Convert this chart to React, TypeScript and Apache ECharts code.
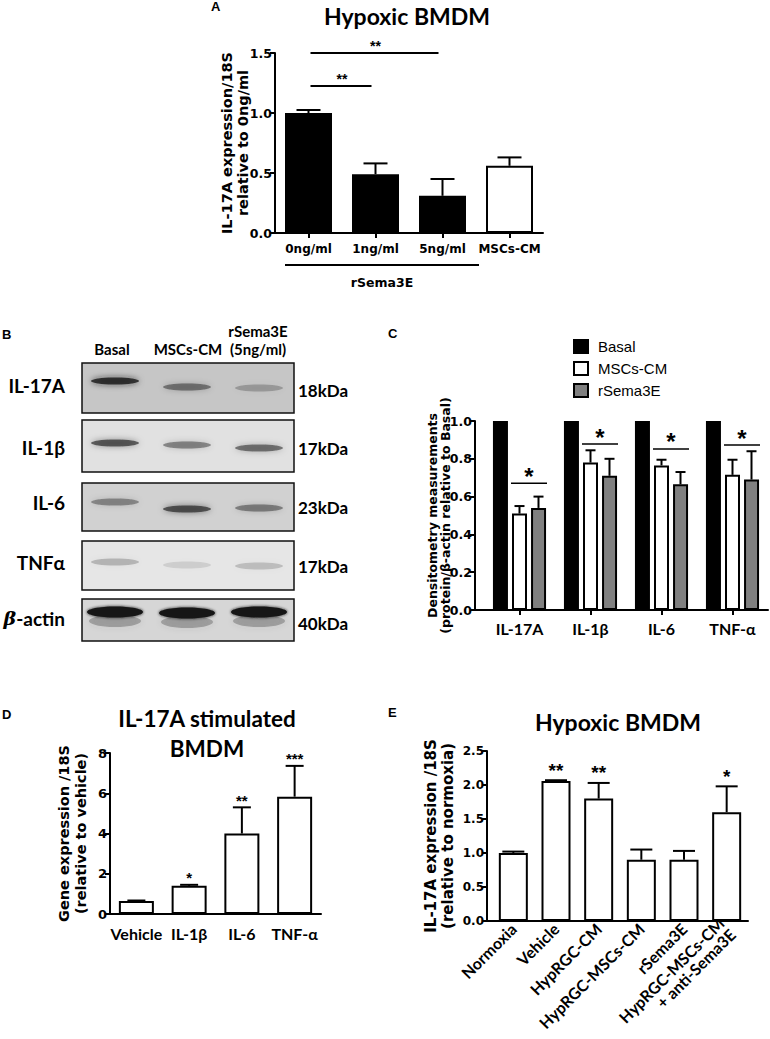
import React, { useEffect, useRef } from "react";
import * as echarts from "echarts";

const ARIAL = '"DejaVu Sans", "Liberation Sans", Arial, sans-serif';
const ARIAL_REG = '"Liberation Sans", Arial, sans-serif';
const CALIBRI = 'Lato, "Open Sans", sans-serif';

// ---------- Panel A ----------
const aCategories = ["0ng/ml", "1ng/ml", "5ng/ml", "MSCs-CM"];
const aValues = [1.0, 0.49, 0.31, 0.56];
const aErrorTops = [1.025, 0.58, 0.45, 0.63];
const aFill = ["#000", "#000", "#000", "#fff"];
const aSigFrom = [0, 0];
const aSigTo = [2, 1];
const aSigY = [1.5, 1.225];
const aSigText = ["**", "**"];
const aGroupLabel = "rSema3E";

// ---------- Panel B (western blot) ----------
const blotLanes = ["Basal", "MSCs-CM", "rSema3E\n(5ng/ml)"];
const blotProteins = ["IL-17A", "IL-1β", "IL-6", "TNFα", "β-actin"];
const blotSizes = ["18kDa", "17kDa", "23kDa", "17kDa", "40kDa"];
const blotBackgrounds = ["#c6c6c6", "#e1e1e1", "#d1d1d1", "#e6e6e6", "#d6d6d6"];
const blotIntensity = [
  [0.8, 0.45, 0.22],
  [0.6, 0.42, 0.5],
  [0.38, 0.65, 0.42],
  [0.2, 0.1, 0.17],
  [1, 1, 1],
];

// ---------- Panel C ----------
const cCategories = ["IL-17A", "IL-1β", "IL-6", "TNF-α"];
const cBasal = [1, 1, 1, 1];
const cMSCs = [0.51, 0.78, 0.765, 0.715];
const cMSCsErr = [0.55, 0.845, 0.795, 0.795];
const cRSema = [0.54, 0.71, 0.665, 0.69];
const cRSemaErr = [0.6, 0.8, 0.73, 0.84];
const cSigY = [0.67, 0.878, 0.852, 0.873];

// ---------- Panel D ----------
const dCategories = ["Vehicle", "IL-1β", "IL-6", "TNF-α"];
const dValues = [0.65, 1.4, 4.0, 5.83];
const dErrorTops = [0.67, 1.45, 5.3, 7.36];
const dStars = ["", "*", "**", "***"];

// ---------- Panel E ----------
const eCategories = [
  "Normoxia",
  "Vehicle",
  "HypRGC-CM",
  "HypRGC-MSCs-CM",
  "rSema3E",
  "HypRGC-MSCs-CM\n+ anti-Sema3E",
];
const eValues = [1.0, 2.06, 1.8, 0.9, 0.9, 1.6];
const eErrorTops = [1.02, 2.07, 2.03, 1.05, 1.03, 1.98];
const eStars = ["", "**", "**", "", "", "*"];

function yAxisOf(
  gridIndex: number,
  max: number,
  interval: number,
  name: string,
  labelSize: number,
  nameSize: number,
  nameLineHeight: number,
  nameGap: number,
  decimals: number,
  offset = 0
) {
  return {
    type: "value",
    gridIndex,
    min: 0,
    max,
    interval,
    offset,
    name,
    nameLocation: "middle",
    nameRotate: 90,
    nameGap,
    nameMoveOverlap: false,
    nameTextStyle: {
      fontFamily: ARIAL,
      fontWeight: "bold",
      fontSize: nameSize,
      lineHeight: nameLineHeight,
      color: "#000",
    },
    axisLine: { show: true, lineStyle: { color: "#000", width: 2 } },
    axisTick: { show: true, length: 5, lineStyle: { color: "#000", width: 2 } },
    splitLine: { show: false },
    axisLabel: {
      fontFamily: ARIAL,
      fontWeight: "bold",
      fontSize: labelSize,
      color: "#000",
      margin: 3,
      formatter: (v: number) => v.toFixed(decimals),
    },
  };
}

function xAxisOf(gridIndex: number, data: string[], label: any, ticks: boolean) {
  return {
    type: "category",
    gridIndex,
    data,
    axisLine: { show: true, lineStyle: { color: "#000", width: 2 } },
    axisTick: { show: ticks, alignWithLabel: true, length: 5, lineStyle: { color: "#000", width: 2 } },
    axisLabel: { interval: 0, color: "#000", fontWeight: "bold", ...label },
    splitLine: { show: false },
  };
}

function errSeries(
  axis: number,
  values: number[],
  tops: number[],
  cap: number,
  dx: number,
  stars: string[] | null,
  starSize: number,
  starDy: number
) {
  return {
    type: "custom",
    xAxisIndex: axis,
    yAxisIndex: axis,
    z: 10,
    clip: false,
    silent: true,
    data: values.map((v, i) => [i, v, tops[i]]),
    encode: { x: 0, y: [1, 2] },
    renderItem: (params: any, api: any) => {
      const i = api.value(0);
      const a = api.coord([i, api.value(1)]);
      const b = api.coord([i, api.value(2)]);
      const x = a[0] + dx;
      const children: any[] = [
        { type: "line", shape: { x1: x, y1: a[1], x2: x, y2: b[1] }, style: { stroke: "#000", lineWidth: 2 } },
        { type: "line", shape: { x1: x - cap, y1: b[1], x2: x + cap, y2: b[1] }, style: { stroke: "#000", lineWidth: 2 } },
      ];
      const s = stars ? stars[params.dataIndex] : "";
      if (s) {
        children.push({
          type: "text",
          x,
          y: b[1] - starDy,
          style: {
            text: s,
            fill: "#000",
            fontFamily: ARIAL_REG,
            fontWeight: "bold",
            fontSize: starSize,
            align: "center",
            verticalAlign: "middle",
          },
        });
      }
      return { type: "group", children };
    },
  };
}

function blotGraphics() {
  const boxX = 82;
  const boxW = 212;
  const rows = [
    [363, 413],
    [420, 472],
    [483, 531],
    [541, 590],
    [599, 641],
  ];
  const bandY = [
    [381, 387, 388],
    [443, 445, 448],
    [502, 509, 508],
    [562, 565, 566],
    [612, 613, 612],
  ];
  const laneX = [115, 187, 259];
  const els: any[] = [];
  rows.forEach((r, ri) => {
    els.push({
      type: "rect",
      shape: { x: boxX, y: r[0], width: boxW, height: r[1] - r[0] },
      style: { fill: blotBackgrounds[ri], stroke: "#111", lineWidth: 1.5 },
    });
    laneX.forEach((lx, li) => {
      const k = blotIntensity[ri][li];
      const isActin = ri === 4;
      const cy = bandY[ri][li];
      if (isActin) {
        els.push({
          type: "ellipse",
          shape: { cx: lx, cy: cy + 9, rx: 26, ry: 6 },
          style: { fill: "rgba(70,70,70,0.35)", shadowBlur: 6, shadowColor: "rgba(70,70,70,0.35)" },
        });
      }
      els.push({
        type: "ellipse",
        shape: { cx: lx, cy, rx: isActin ? 28 : 24, ry: isActin ? 5.5 : 3.5 },
        style: {
          fill: `rgba(25,25,25,${k})`,
          shadowBlur: isActin ? 3 : 6,
          shadowColor: `rgba(25,25,25,${k})`,
        },
      });
    });
    els.push({
      type: "text",
      x: 65,
      y: [385, 447, 502, 562, 618][ri],
      style: {
        text: ri === 4 ? "{b|β}-actin" : blotProteins[ri],
        fill: "#000",
        fontFamily: CALIBRI,
        fontWeight: "bold",
        fontSize: 19,
        align: "right",
        verticalAlign: "middle",
        rich:
          ri === 4
            ? {
                b: {
                  fontFamily: '"DejaVu Serif", serif',
                  fontStyle: "italic",
                  fontWeight: "bold",
                  fontSize: 19,
                  fill: "#000",
                },
              }
            : undefined,
      },
    });
    els.push({
      type: "text",
      x: 298,
      y: [390, 448, 507, 566, 623][ri],
      style: {
        text: blotSizes[ri],
        fill: "#000",
        fontFamily: CALIBRI,
        fontWeight: "bold",
        fontSize: 17,
        align: "left",
        verticalAlign: "middle",
      },
    });
  });
  blotLanes.forEach((t, li) => {
    els.push({
      type: "text",
      x: [112, 188, 258][li],
      y: 358,
      style: {
        text: t,
        fill: "#000",
        fontFamily: CALIBRI,
        fontWeight: "bold",
        fontSize: 15,
        lineHeight: 18,
        align: "center",
        verticalAlign: "bottom",
      },
    });
  });
  return els;
}

function textEl(x: number, y: number, text: string, size: number, family: string, align = "center") {
  return {
    type: "text",
    x,
    y,
    style: {
      text,
      fill: "#000",
      fontFamily: family,
      fontWeight: "bold",
      fontSize: size,
      align,
      verticalAlign: "middle",
    },
  };
}

export default function App() {
  const ref = useRef<HTMLDivElement>(null);

  useEffect(() => {
    if (!ref.current) return;
    const chart = echarts.init(ref.current, undefined, { renderer: "svg" });

    const option: any = {
      animation: false,
      backgroundColor: "#fff",
      grid: [
        { left: 275, top: 53, width: 268, height: 180 },
        { left: 484, top: 421, width: 284, height: 189 },
        { left: 110, top: 753, width: 211, height: 161 },
        { left: 492, top: 751, width: 256, height: 170 },
      ],
      legend: {
        data: ["Basal", "MSCs-CM", "rSema3E"],
        orient: "vertical",
        left: 568,
        top: 334,
        itemWidth: 14,
        itemHeight: 13,
        itemGap: 7,
        icon: "rect",
        selectedMode: false,
        textStyle: { fontFamily: ARIAL_REG, fontSize: 15, color: "#000", padding: [0, 0, 0, 5] },
      },
      xAxis: [
        xAxisOf(0, aCategories, { fontFamily: ARIAL, fontSize: 12, margin: 10 }, true),
        xAxisOf(1, cCategories, { fontFamily: CALIBRI, fontSize: 16, margin: 10 }, true),
        xAxisOf(2, dCategories, { fontFamily: CALIBRI, fontSize: 16, margin: 11 }, false),
        xAxisOf(3, eCategories, { fontFamily: CALIBRI, fontSize: 16, margin: 5, rotate: 45 }, false),
      ],
      yAxis: [
        yAxisOf(0, 1.5, 0.5, "IL-17A expression/18S\nrelative to 0ng/ml", 12.5, 14.5, 16, 24, 1),
        yAxisOf(1, 1.0, 0.2, "Densitometry measurements\n(protein/β-actin relative to Basal)", 12.5, 12.5, 13, 23, 1, 9),
        yAxisOf(2, 8, 2, "Gene expression /18S\n(relative to vehicle)", 13, 14.5, 17, 21, 0),
        yAxisOf(3, 2.5, 0.5, "IL-17A expression /18S\n(relative to normoxia)", 12, 15, 17, 31, 1, 5),
      ],
      series: [
        // Panel A
        {
          type: "bar",
          xAxisIndex: 0,
          yAxisIndex: 0,
          barWidth: 47,
          data: aValues.map((v, i) => ({
            value: v,
            itemStyle: { color: aFill[i], borderColor: "#000", borderWidth: 2 },
          })),
        },
        errSeries(0, aValues, aErrorTops, 12, 0, null, 12, 0),
        {
          type: "custom",
          xAxisIndex: 0,
          yAxisIndex: 0,
          clip: false,
          silent: true,
          z: 10,
          data: aSigY.map((y, i) => [aSigFrom[i], aSigTo[i], y]),
          encode: { x: [0, 1], y: 2 },
          renderItem: (params: any, api: any) => {
            const p1 = api.coord([api.value(0), api.value(2)]);
            const p2 = api.coord([api.value(1), api.value(2)]);
            return {
              type: "group",
              children: [
                { type: "line", shape: { x1: p1[0] + 2, y1: p1[1], x2: p2[0] - 4, y2: p1[1] }, style: { stroke: "#000", lineWidth: 2 } },
                {
                  type: "text",
                  x: (p1[0] + p2[0]) / 2,
                  y: p1[1] - 7,
                  style: {
                    text: aSigText[params.dataIndex],
                    fill: "#000",
                    fontFamily: ARIAL_REG,
                    fontWeight: "bold",
                    fontSize: 14,
                    align: "center",
                    verticalAlign: "middle",
                  },
                },
              ],
            };
          },
        },
        // Panel C
        {
          name: "Basal",
          type: "bar",
          xAxisIndex: 1,
          yAxisIndex: 1,
          barWidth: 15,
          barGap: "27%",
          itemStyle: { color: "#000", borderColor: "#000", borderWidth: 2 },
          data: cBasal,
        },
        {
          name: "MSCs-CM",
          type: "bar",
          xAxisIndex: 1,
          yAxisIndex: 1,
          barWidth: 15,
          barGap: "27%",
          itemStyle: { color: "#fff", borderColor: "#000", borderWidth: 2 },
          data: cMSCs,
        },
        {
          name: "rSema3E",
          type: "bar",
          xAxisIndex: 1,
          yAxisIndex: 1,
          barWidth: 15,
          barGap: "27%",
          itemStyle: { color: "#808080", borderColor: "#000", borderWidth: 2 },
          data: cRSema,
        },
        errSeries(1, cMSCs, cMSCsErr, 5, 0, null, 12, 0),
        errSeries(1, cRSema, cRSemaErr, 5, 19, null, 12, 0),
        {
          type: "custom",
          xAxisIndex: 1,
          yAxisIndex: 1,
          clip: false,
          silent: true,
          z: 10,
          data: cSigY.map((y, i) => [i, y]),
          encode: { x: 0, y: 1 },
          renderItem: (params: any, api: any) => {
            const c = api.coord([api.value(0), api.value(1)]);
            return {
              type: "group",
              children: [
                { type: "line", shape: { x1: c[0] - 8.5, y1: c[1], x2: c[0] + 27.5, y2: c[1] }, style: { stroke: "#000", lineWidth: 1.5 } },
                {
                  type: "text",
                  x: c[0] + 9.5,
                  y: c[1] - 7,
                  style: {
                    text: "*",
                    fill: "#000",
                    fontFamily: ARIAL_REG,
                    fontWeight: "bold",
                    fontSize: 24,
                    align: "center",
                    verticalAlign: "middle",
                  },
                },
              ],
            };
          },
        },
        // Panel D
        {
          type: "bar",
          xAxisIndex: 2,
          yAxisIndex: 2,
          barWidth: 35,
          itemStyle: { color: "#fff", borderColor: "#000", borderWidth: 2 },
          data: dValues,
        },
        errSeries(2, dValues, dErrorTops, 9, 0, dStars, 15, 7),
        // Panel E
        {
          type: "bar",
          xAxisIndex: 3,
          yAxisIndex: 3,
          barWidth: 29,
          itemStyle: { color: "#fff", borderColor: "#000", borderWidth: 2 },
          data: eValues,
        },
        errSeries(3, eValues, eErrorTops, 11, 0, eStars, 19, 10),
      ],
      graphic: [
        // panel letters
        textEl(211, 6, "A", 13, ARIAL_REG, "left"),
        textEl(2, 334, "B", 13, ARIAL_REG, "left"),
        textEl(388, 333, "C", 13, ARIAL_REG, "left"),
        textEl(2, 714, "D", 13, ARIAL_REG, "left"),
        textEl(388, 712, "E", 13, ARIAL_REG, "left"),
        // titles
        textEl(407, 16, "Hypoxic BMDM", 23, CALIBRI),
        textEl(207, 718, "IL-17A stimulated", 22.5, CALIBRI),
        textEl(207, 748, "BMDM", 22.5, CALIBRI),
        textEl(618, 722, "Hypoxic BMDM", 23, CALIBRI),
        // panel A group bracket
        { type: "line", shape: { x1: 285, y1: 265, x2: 479, y2: 265 }, style: { stroke: "#000", lineWidth: 2 } },
        textEl(382, 282, aGroupLabel, 12.5, ARIAL),
        // x-axis extensions to the offset y-axes
        { type: "line", shape: { x1: 475, y1: 610, x2: 485, y2: 610 }, style: { stroke: "#000", lineWidth: 2 } },
        { type: "line", shape: { x1: 487, y1: 921, x2: 493, y2: 921 }, style: { stroke: "#000", lineWidth: 2 } },
        ...blotGraphics(),
      ],
    };

    chart.setOption(option);
    return () => chart.dispose();
  }, []);

  return (
    <div
      ref={ref}
      style={{ position: "absolute", left: 0, top: 0, width: 770, height: 1039 }}
    />
  );
}
